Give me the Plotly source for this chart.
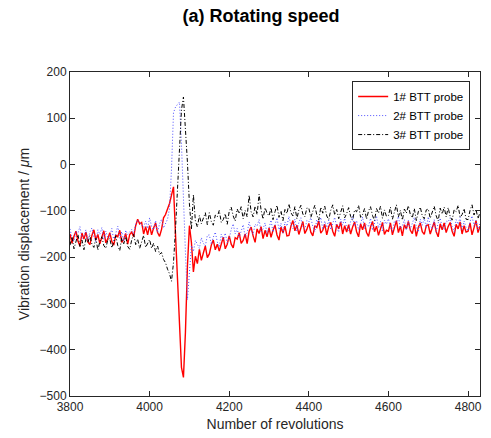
import plotly.graph_objects as go

# Sample positions: one sample every 5 revolutions from 3800 to 4830
revolutions = list(range(3800, 4831, 5))

probe1 = [
    -150, -170, -155, -144, -165, -176, -148, -161, -146, -167,
    -173, -153, -141, -163, -151, -171, -157, -143, -169, -160,
    -147, -166, -174, -152, -156, -142, -168, -162, -149, -172,
    -151, -146, -156, -132, -118, -128, -125, -150, -134, -152,
    -132, -152, -137, -126, -147, -155, -140, -115, -108, -96,
    -84, -66, -48, -150, -255, -362, -438, -460, -362, -220,
    -132, -168, -232, -198, -214, -183, -207, -191, -176, -201,
    -193, -174, -163, -184, -172, -187, -171, -157, -182, -172,
    -154, -172, -180, -158, -161, -147, -170, -164, -150, -171,
    -144, -135, -154, -168, -139, -149, -134, -160, -142, -156,
    -137, -157, -142, -131, -152, -163, -135, -148, -133, -154,
    -153, -133, -121, -143, -131, -151, -137, -123, -149, -140,
    -127, -146, -154, -132, -136, -122, -148, -142, -129, -152,
    -134, -125, -144, -155, -129, -139, -124, -150, -132, -146,
    -130, -150, -135, -124, -145, -156, -128, -141, -126, -147,
    -155, -135, -123, -145, -133, -153, -139, -125, -151, -142,
    -144, -126, -152, -135, -121, -147, -133, -154, -130, -139,
    -123, -142, -149, -129, -155, -136, -126, -145, -151, -132,
    -130, -150, -135, -124, -145, -156, -128, -141, -126, -147,
    -134, -125, -144, -155, -129, -139, -124, -150, -132, -146,
    -144, -126, -152, -135, -121, -147, -133,
]

probe2 = [
    -139, -158, -166, -144, -148, -134, -160, -154, -141, -164,
    -146, -137, -156, -167, -141, -151, -136, -162, -144, -158,
    -156, -138, -164, -147, -133, -159, -145, -166, -142, -151,
    -146, -140, -150, -128, -120, -124, -130, -136, -122, -138,
    -115, -134, -141, -121, -147, -128, -118, -137, -128, -118,
    -95, -10, 112, 124, 130, 135, 45, -85, -190, -292,
    -240, -175, -188, -164, -172, -181, -158, -170, -176, -153,
    -152, -172, -157, -146, -167, -178, -150, -163, -148, -169,
    -160, -140, -128, -150, -138, -158, -144, -130, -156, -147,
    -124, -143, -151, -129, -133, -119, -145, -139, -126, -149,
    -138, -120, -146, -129, -115, -141, -127, -148, -124, -133,
    -112, -131, -138, -118, -144, -125, -115, -134, -140, -121,
    -124, -115, -134, -145, -119, -129, -114, -140, -122, -136,
    -120, -140, -125, -114, -135, -146, -118, -131, -116, -137,
    -143, -123, -111, -133, -121, -141, -127, -113, -139, -130,
    -134, -116, -142, -125, -111, -137, -123, -144, -120, -129,
    -117, -136, -144, -122, -126, -112, -138, -132, -119, -142,
    -120, -140, -125, -114, -135, -146, -118, -131, -116, -137,
    -113, -132, -139, -119, -145, -126, -116, -135, -141, -122,
    -124, -115, -134, -145, -119, -129, -114, -140, -122, -136,
    -143, -123, -111, -133, -121, -141, -127,
]

probe3 = [
    -174, -156, -182, -165, -151, -177, -163, -184, -160, -169,
    -153, -172, -179, -159, -185, -166, -156, -175, -181, -162,
    -160, -180, -165, -154, -175, -186, -158, -171, -156, -177,
    -183, -163, -151, -173, -161, -181, -167, -153, -179, -170,
    -162, -181, -170, -188, -176, -194, -190, -205, -212, -226,
    -236, -252, -212, -140, -60, 40, 118, 146, 85, 5,
    -85, -140, -65, -122, -135, -110, -128, -116, -104, -130,
    -104, -123, -131, -109, -113, -99, -125, -119, -106, -129,
    -101, -92, -111, -122, -96, -106, -91, -117, -99, -113,
    -66, -102, -113, -90, -108, -64, -98, -118, -93, -105,
    -111, -93, -119, -102, -88, -114, -100, -121, -97, -106,
    -85, -104, -111, -91, -117, -98, -88, -107, -113, -94,
    -94, -114, -99, -88, -109, -120, -92, -105, -90, -111,
    -119, -99, -87, -109, -97, -117, -103, -89, -115, -106,
    -93, -112, -120, -98, -102, -88, -114, -108, -95, -118,
    -100, -91, -110, -121, -95, -105, -90, -116, -98, -112,
    -110, -92, -118, -101, -87, -113, -99, -120, -96, -105,
    -89, -108, -115, -95, -121, -102, -92, -111, -117, -98,
    -96, -116, -101, -90, -111, -122, -94, -107, -92, -113,
    -93, -112, -120, -98, -102, -88, -114, -108, -95, -118,
    -119, -99, -87, -109, -97, -117, -103,
]

names = ["1# BTT probe", "2# BTT probe", "3# BTT probe"]
x_ticks = [3800, 4000, 4200, 4400, 4600, 4800]
y_ticks = [-500, -400, -300, -200, -100, 0, 100, 200]

FONT = "Liberation Sans, Arial, Helvetica, sans-serif"
AX = "#262626"

fig = go.Figure()
fig.add_trace(go.Scatter(x=revolutions, y=probe1, mode="lines", name=names[0],
                         line=dict(color="#ff0000", width=1.4)))
fig.add_trace(go.Scatter(x=revolutions, y=probe2, mode="lines", name=names[1],
                         line=dict(color="rgb(80,80,255)", width=1, dash="1px,2px")))
fig.add_trace(go.Scatter(x=revolutions, y=probe3, mode="lines", name=names[2],
                         line=dict(color="#000000", width=1, dash="4px,2px,1px,2px")))

axis_common = dict(showline=True, linecolor=AX, linewidth=1, mirror="ticks",
                   ticks="inside", ticklen=5, tickcolor=AX, showgrid=False,
                   zeroline=False, tickfont=dict(family=FONT, size=12, color=AX))

fig.update_layout(
    width=491, height=438,
    margin=dict(l=70, r=9, t=72, b=42),
    paper_bgcolor="white", plot_bgcolor="white",
    title=dict(text="<b>(a) Rotating speed</b>", x=261/491, xanchor="center",
               y=1 - 16/438, yanchor="middle",
               font=dict(family=FONT, size=18, color="black")),
    xaxis=dict(range=[3800, 4830], tickvals=x_ticks,
               title=dict(text="Number of revolutions", standoff=5,
                          font=dict(family=FONT, size=14, color=AX)),
               **axis_common),
    yaxis=dict(range=[-500, 200], tickvals=y_ticks,
               title=dict(text="Vibration displacement / <i>μ</i>m", standoff=6,
                          font=dict(family=FONT, size=14, color=AX)),
               **axis_common),
    legend=dict(x=0.976, y=0.972, xanchor="right", yanchor="top",
                bgcolor="white", bordercolor=AX, borderwidth=1,
                font=dict(family=FONT, size=11.5, color="black"),
                tracegroupgap=0, itemwidth=30),
    showlegend=True,
)

fig.write_html("out.html")
